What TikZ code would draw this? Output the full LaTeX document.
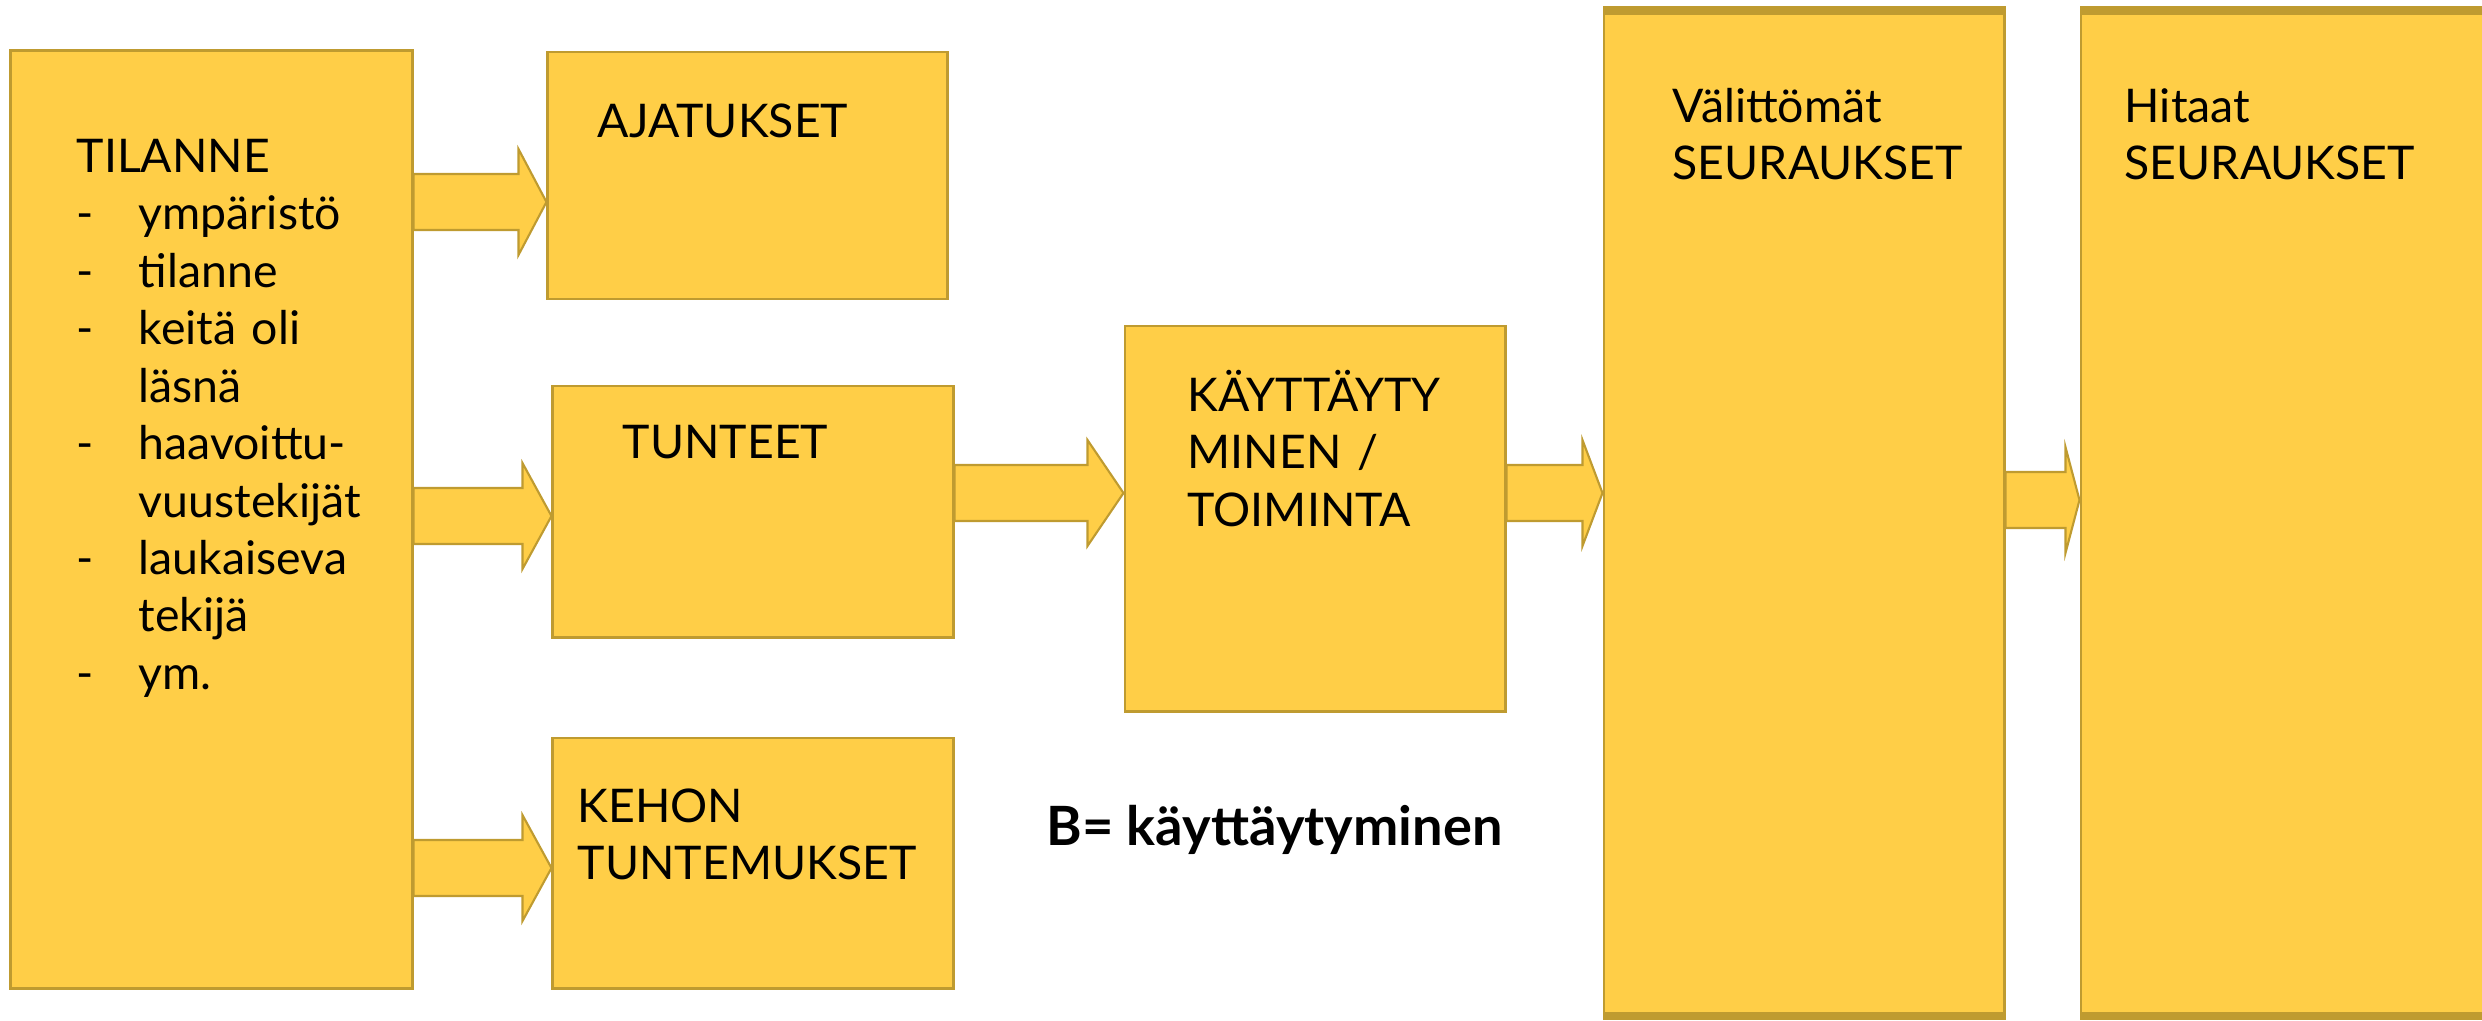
\documentclass[tikz,border=0pt]{standalone}
\usepackage{fontspec}
\setmainfont{Lato}
\usetikzlibrary{calc}

\definecolor{boxfill}{RGB}{255,206,71}
\definecolor{boxline}{RGB}{191,155,48}

\newcommand{\dashitem}[1]{\makebox[0.62cm][l]{-}#1}
\newcommand{\contitem}[1]{\hspace*{0.62cm}#1}
% block arrow: tail anchor, tip anchor, y, head length
\newcommand{\blockarrow}[4]{%
  \filldraw[flowarrow] (#1 |- 0,#3) ++(0,-28) -- ($(#2 |- 0,#3)+(-#4,-28)$) -- ++(0,-25)
    -- (#2 |- 0,#3) -- ($(#2 |- 0,#3)+(-#4,53)$) -- ++(0,-25) -- ($(#1 |- 0,#3)+(0,28)$) -- cycle;}

\begin{document}
\begin{tikzpicture}[x=0.01cm, y=-0.01cm,
    box/.style={rectangle, draw=boxline, fill=boxfill, line width=0.8pt, inner sep=0pt},
    boxtext/.style={anchor=base west, inner sep=0pt, align=left, text width=4cm,
      font=\fontsize{13.2pt}{16.35pt}\selectfont},
    flowarrow/.style={draw=boxline, fill=boxfill, line width=0.6pt, line join=miter}]
   \useasboundingbox (0,0) rectangle (2482,1020);
   \clip (0,0) rectangle (2482,1020);

   \node[box, minimum width=4.01cm, minimum height=9.37cm] (tilanne) at (211.5,519.5) {};
   \node[box, minimum width=3.99cm, minimum height=2.47cm] (ajatukset) at (747.5,175.5) {};
   \node[box, minimum width=4.00cm, minimum height=2.51cm] (tunteet) at (753,511.5) {};
   \node[box, minimum width=4.00cm, minimum height=2.50cm] (kehon) at (753,863) {};
   \node[box, minimum width=3.80cm, minimum height=3.85cm] (kaytt) at (1315,518.5) {};
   \node[box, minimum width=4.00cm, minimum height=10.10cm] (valittomat) at (1804,513) {};
   \node[box, minimum width=4.19cm, minimum height=10.10cm] (hitaat) at (2290.5,513) {};
   \foreach \b in {valittomat,hitaat} {
     \fill[boxline] (\b.north west) rectangle ($(\b.north east)+(0,9)$);
     \fill[boxline] ($(\b.south west)+(0,-8)$) rectangle (\b.south east);
   }

   \node[boxtext] (tilanneLbl) at (76,172) {TILANNE\\
     \dashitem{ympäristö}\\ \dashitem{tilanne}\\ \dashitem{keitä oli}\\ \contitem{läsnä}\\
     \dashitem{haavoittu-}\\ \contitem{vuustekijät}\\ \dashitem{laukaiseva}\\
     \contitem{tekijä}\\ \dashitem{ym.}};
   \node[boxtext] (ajatuksetLbl) at (597,137) {AJATUKSET};
   \node[boxtext] (tunteetLbl) at (622,458) {TUNTEET};
   \node[boxtext] (kehonLbl) at (577,822) {KEHON\\TUNTEMUKSET};
   \node[boxtext] (kayttLbl) at (1187,411) {KÄYTTÄYTY\\MINEN /\\TOIMINTA};
   \node[boxtext] (valittomatLbl) at (1672,122) {Välittömät\\SEURAUKSET};
   \node[boxtext] (hitaatLbl) at (2124,122) {Hitaat\\SEURAUKSET};
   \node[anchor=base west, inner sep=0pt, font=\bfseries\fontsize{15.4pt}{18pt}\selectfont]
     (selite) at (1046,845) {B= käyttäytyminen};

   \blockarrow{tilanne.east}{ajatukset.west}{202}{28}
   \blockarrow{tilanne.east}{tunteet.west}{516}{29}
   \blockarrow{tilanne.east}{kehon.west}{868}{29}
   \blockarrow{tunteet.east}{kaytt.west}{493}{36}
   \blockarrow{kaytt.east}{valittomat.west}{493}{20}
   \blockarrow{valittomat.east}{hitaat.west}{500}{14}
\end{tikzpicture}
\end{document}
